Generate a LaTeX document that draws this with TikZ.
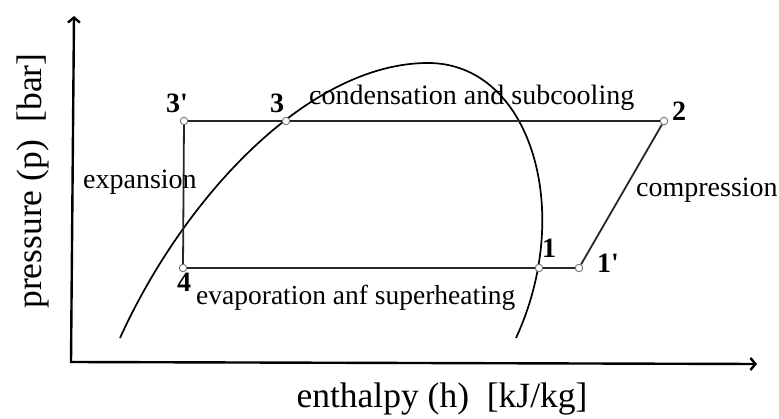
\documentclass[tikz,border=0pt]{standalone}
\usepackage{fontspec}
\setmainfont{Liberation Serif}
\usetikzlibrary{arrows.meta}
\tikzset{
  dot/.style={circle,draw=black!55,fill=white,line width=0.9pt,inner sep=0pt,minimum size=7.5pt},
  cyc/.style={line width=1.8pt,draw=black!85},
  dome/.style={line width=1.7pt},
  axis/.style={line width=2.4pt,{Straight Barb[length=5pt,width=12pt]}-{Straight Barb[length=5pt,width=12pt]}},
  lbl/.style={font=\fontsize{28}{31}\selectfont,inner sep=0pt,anchor=base west},
  num/.style={font=\fontsize{28}{31}\selectfont\bfseries,inner sep=0pt,anchor=base west},
  ttl/.style={font=\fontsize{35.5}{40}\selectfont,inner sep=0pt,anchor=base},
}

\begin{document}
\begin{tikzpicture}[x=1pt,y=-1pt]
  \useasboundingbox (0,0) rectangle (779,419);
  % axes
  \coordinate (ytip) at (74,16);
  \coordinate (orig) at (71,362);
  \coordinate (xtip) at (757,364);
  \draw[axis] (ytip) -- (orig) -- (xtip);
  \node[ttl] (xlab) at (442,407) {enthalpy (h)~~[kJ/kg]};
  \node[ttl,rotate=90] (ylab) at (41,181) {pressure (p)~~[bar]};
  % saturation dome
  \draw[dome] (120,338) .. controls (185,195) and (310,63) .. (428,63)
    .. controls (530,63) and (575,210) .. (516,338);
  % cycle points
  \node[dot] (p3p) at (184,121) {};
  \node[dot] (p3) at (286,121) {};
  \node[dot] (p2) at (664,121) {};
  \node[dot] (p1p) at (579,268) {};
  \node[dot] (p1) at (539,268) {};
  \node[dot] (p4) at (183,268) {};
  \draw[cyc] (p3p) -- (p3) -- (p2);
  \draw[cyc] (p2) -- (p1p);
  \draw[cyc] (p1p) -- (p1) -- (p4);
  \draw[cyc] (p4) -- (p3p);
  % point numbers
  \node[num] (n3p) at (166,113) {3\textquotesingle};
  \node[num] (n3) at (270,113) {3};
  \node[num] (n2) at (672,121) {2};
  \node[num] (n1) at (542,258) {1};
  \node[num] (n1p) at (597,273) {1\textquotesingle};
  \node[num] (n4) at (177,292) {4};
  % process labels
  \node[lbl] (cond) at (309,105) {condensation and subcooling};
  \node[lbl] (comp) at (636,197) {compression};
  \node[lbl] (expa) at (83,189) {expansion};
  \node[lbl,font=\fontsize{27.5}{31}\selectfont] (evap) at (196,305) {evaporation anf superheating};
\end{tikzpicture}
\end{document}
